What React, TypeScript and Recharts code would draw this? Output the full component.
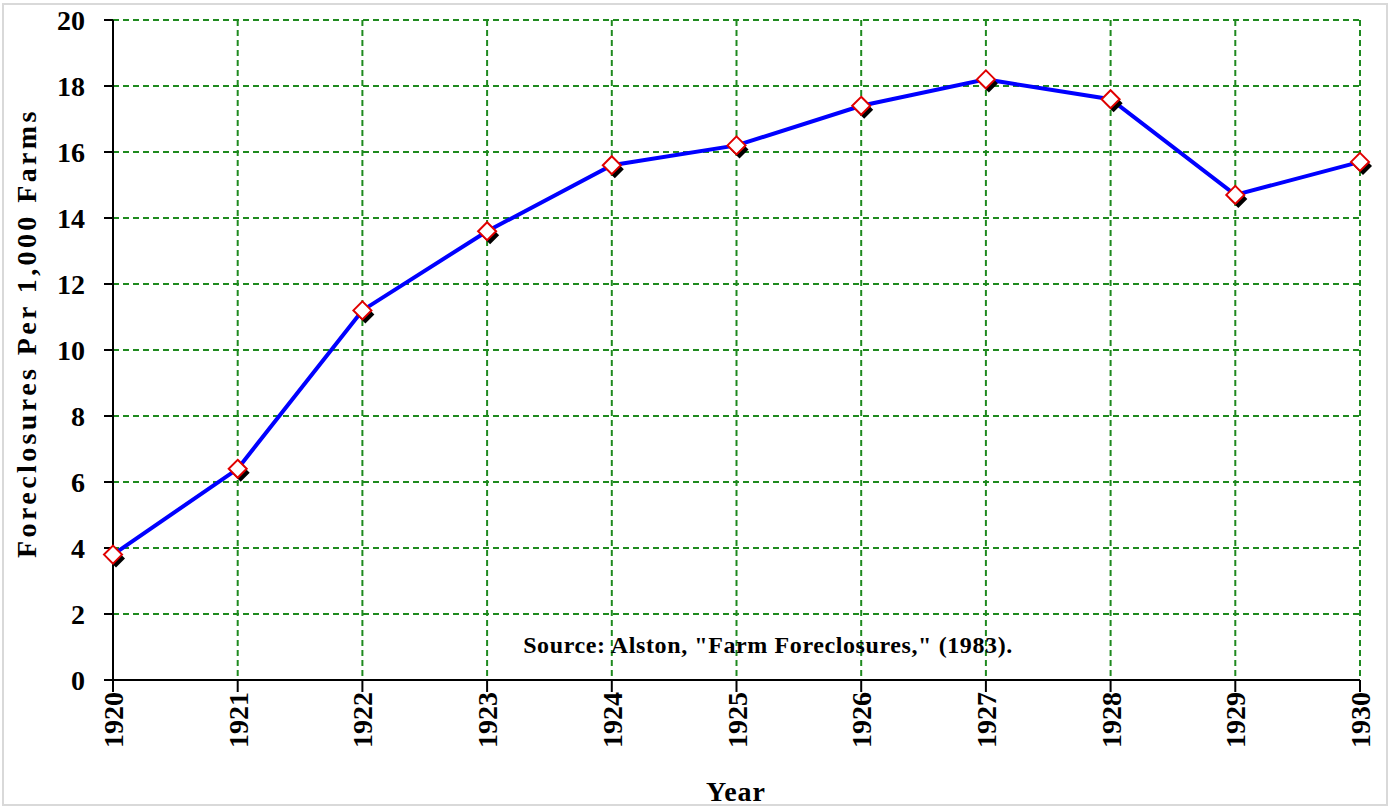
import { LineChart, Line, XAxis, YAxis, CartesianGrid } from 'recharts';

const years = [1920, 1921, 1922, 1923, 1924, 1925, 1926, 1927, 1928, 1929, 1930];
const foreclosures = [3.8, 6.4, 11.2, 13.6, 15.6, 16.2, 17.4, 18.2, 17.6, 14.7, 15.7];
const yTicks = [0, 2, 4, 6, 8, 10, 12, 14, 16, 18, 20];

const data = years.map((year, i) => ({ year, value: foreclosures[i] }));

const FONT = '"Liberation Serif", "Times New Roman", serif';

function YearTick(props: any) {
  const { x, y, payload } = props;
  return (
    <text
      transform={`translate(${x + 10}, ${y}) rotate(-90)`}
      textAnchor="end"
      fontFamily={FONT}
      fontWeight="bold"
      fontSize={28}
      fill="#000"
    >
      {payload.value}
    </text>
  );
}

function Diamond(props: any) {
  const { cx, cy, index } = props;
  if (cx == null || cy == null) return null;
  const r = 9;
  const pts = (dx: number, dy: number) =>
    `${cx + dx},${cy + dy - r} ${cx + dx + r},${cy + dy} ${cx + dx},${cy + dy + r} ${cx + dx - r},${cy + dy}`;
  return (
    <g key={`dot-${index}`}>
      <polygon points={pts(3, 4)} fill="#000" />
      <polygon points={pts(0, 0)} fill="#fff" stroke="#e00000" strokeWidth={2} />
    </g>
  );
}

export default function App() {
  return (
    <div style={{ position: 'relative', width: 1393, height: 812, background: '#fff', overflow: 'hidden' }}>
      <style>{`body{margin:0}`}</style>
      <div
        style={{
          position: 'absolute',
          left: 2,
          top: 3,
          width: 1386,
          height: 803,
          border: '2px solid #d9d9d9',
          boxSizing: 'border-box',
        }}
      />
      <LineChart
        width={1393}
        height={812}
        data={data}
        margin={{ top: 20, right: 33, bottom: 0, left: 0 }}
      >
        <CartesianGrid stroke="#1f8a1f" strokeWidth={2} strokeDasharray="6 4" />
        <XAxis
          dataKey="year"
          type="number"
          domain={[1920, 1930]}
          ticks={years}
          height={132}
          tickSize={12}
          tickMargin={0}
          axisLine={{ stroke: '#000', strokeWidth: 2 }}
          tickLine={{ stroke: '#000', strokeWidth: 2 }}
          tick={<YearTick />}
          interval={0}
        />
        <XAxis
          xAxisId="top"
          orientation="top"
          dataKey="year"
          type="number"
          domain={[1920, 1930]}
          height={0}
          tick={false}
          tickLine={false}
          axisLine={{ stroke: '#000', strokeWidth: 2 }}
        />
        <YAxis
          domain={[0, 20]}
          ticks={yTicks}
          width={113}
          tickSize={9}
          tickMargin={19}
          interval={0}
          axisLine={{ stroke: '#000', strokeWidth: 2 }}
          tickLine={{ stroke: '#000', strokeWidth: 2 }}
          tick={{ fill: '#000', fontSize: 28, fontWeight: 'bold', fontFamily: FONT }}
        />
        <YAxis
          yAxisId="right"
          orientation="right"
          domain={[0, 20]}
          width={0}
          tick={false}
          tickLine={false}
          axisLine={{ stroke: '#000', strokeWidth: 2 }}
        />
        <Line
          dataKey="value"
          stroke="#0000ff"
          strokeWidth={4}
          dot={<Diamond />}
          activeDot={false}
          isAnimationActive={false}
        />
      </LineChart>
      <div
        style={{
          position: 'absolute',
          left: 27,
          top: 333,
          transform: 'translate(-50%, -50%) rotate(-90deg)',
          whiteSpace: 'nowrap',
          fontFamily: FONT,
          fontWeight: 'bold',
          fontSize: 28,
          letterSpacing: 3.4,
          color: '#000',
        }}
      >
        Foreclosures Per 1,000 Farms
      </div>
      <div
        style={{
          position: 'absolute',
          left: 768,
          top: 645,
          transform: 'translate(-50%, -50%)',
          whiteSpace: 'nowrap',
          fontFamily: FONT,
          fontWeight: 'bold',
          fontSize: 24,
          letterSpacing: 0.6,
          color: '#000',
        }}
      >
        Source: Alston, "Farm Foreclosures," (1983).
      </div>
      <div
        style={{
          position: 'absolute',
          left: 736,
          top: 792,
          transform: 'translate(-50%, -50%)',
          whiteSpace: 'nowrap',
          fontFamily: FONT,
          fontWeight: 'bold',
          fontSize: 28,
          letterSpacing: 1,
          lineHeight: '30px',
          color: '#000',
        }}
      >
        Year
      </div>
    </div>
  );
}
